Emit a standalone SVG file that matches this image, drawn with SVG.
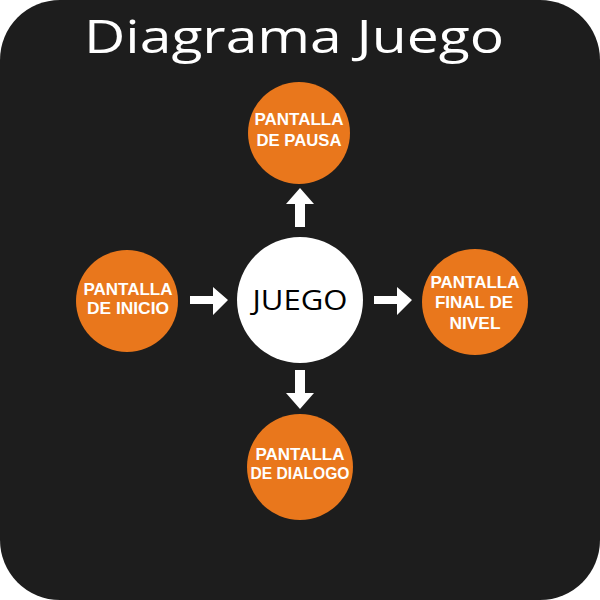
<svg xmlns="http://www.w3.org/2000/svg" width="600" height="600" viewBox="0 0 600 600">
<style>
.node{fill:#E9771C}
.lbl{font-family:"Liberation Sans","DejaVu Sans",sans-serif;font-weight:700;font-size:16.5px;fill:#fff;text-anchor:middle}
.arrow{fill:#fff}
</style>
<rect width="600" height="600" fill="#fff"/>
<rect x="0" y="0" width="600" height="600" rx="60" ry="60" fill="#1d1d1d"/>
<text x="294" y="53" font-family="Open Sans, Noto Sans, sans-serif" font-size="46" fill="#fff" text-anchor="middle" textLength="420" lengthAdjust="spacingAndGlyphs">Diagrama Juego</text>
<g id="connectors">
<path class="arrow" d="M300,188 L314,204 L305,204 L305,227 L295,227 L295,204 L286,204 Z"/>
<path class="arrow" d="M300,409 L314,393 L305,393 L305,370 L295,370 L295,393 L286,393 Z"/>
<path class="arrow" d="M228,300 L213,287 L213,296 L190,296 L190,304 L213,304 L213,315 Z"/>
<path class="arrow" d="M412,300 L397,287 L397,296 L374,296 L374,304 L397,304 L397,315 Z"/>
</g>
<g id="juego">
<circle cx="300" cy="300" r="63" fill="#fff"/>
<text x="300" y="310" font-family="Open Sans, Noto Sans, sans-serif" font-size="27" fill="#000" text-anchor="middle" textLength="95" lengthAdjust="spacingAndGlyphs">JUEGO</text>
</g>
<g id="pausa">
<circle class="node" cx="299" cy="133" r="51"/>
<text class="lbl" x="299" y="125" textLength="89" lengthAdjust="spacingAndGlyphs">PANTALLA</text>
<text class="lbl" x="299" y="146" textLength="85" lengthAdjust="spacingAndGlyphs">DE PAUSA</text>
</g>
<g id="inicio">
<circle class="node" cx="127" cy="301" r="51"/>
<text class="lbl" x="128" y="295" textLength="89" lengthAdjust="spacingAndGlyphs">PANTALLA</text>
<text class="lbl" x="128" y="314" textLength="82" lengthAdjust="spacingAndGlyphs">DE INICIO</text>
</g>
<g id="final">
<circle class="node" cx="475" cy="302" r="53"/>
<text class="lbl" x="475" y="288" textLength="89" lengthAdjust="spacingAndGlyphs">PANTALLA</text>
<text class="lbl" x="474" y="308" textLength="78" lengthAdjust="spacingAndGlyphs">FINAL DE</text>
<text class="lbl" x="475" y="329" textLength="51" lengthAdjust="spacingAndGlyphs">NIVEL</text>
</g>
<g id="dialogo">
<circle class="node" cx="300" cy="467" r="53"/>
<text class="lbl" x="300" y="460" textLength="89" lengthAdjust="spacingAndGlyphs">PANTALLA</text>
<text class="lbl" x="300" y="479" textLength="99" lengthAdjust="spacingAndGlyphs">DE DIALOGO</text>
</g>
</svg>
